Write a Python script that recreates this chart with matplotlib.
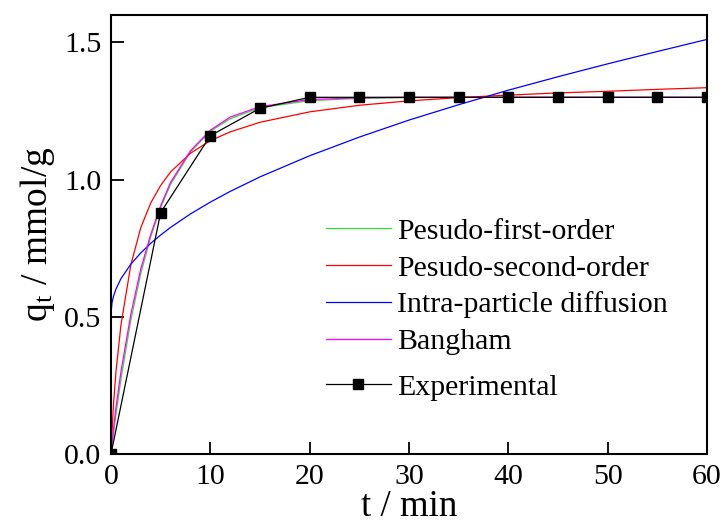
import matplotlib
matplotlib.use('Agg')
import matplotlib.pyplot as plt

# experimental data
t_exp = [0, 5, 10, 15, 20, 25, 30, 35, 40, 45, 50, 55, 60]
q_exp = [0, 0.88, 1.16, 1.26, 1.30, 1.30, 1.30, 1.30, 1.30, 1.30, 1.30, 1.30, 1.30]

# model curves
t_fit = [0, 0.1, 0.25, 0.5, 1, 2, 3, 4, 5, 6, 8, 10, 12, 15, 20, 25, 30, 35, 40, 45, 50, 55, 60]
q_pfo = [0, 0.03, 0.074, 0.144, 0.272, 0.488, 0.658, 0.792, 0.898, 0.983, 1.101, 1.176, 1.222,
         1.262, 1.288, 1.296, 1.299, 1.30, 1.30, 1.30, 1.30, 1.30, 1.30]
q_pso = [0, 0.08, 0.18, 0.30, 0.47, 0.69, 0.825, 0.915, 0.979, 1.028, 1.096, 1.142, 1.174,
         1.209, 1.247, 1.271, 1.287, 1.299, 1.308, 1.316, 1.322, 1.329, 1.335]
q_ipd = [0.51, 0.551, 0.575, 0.601, 0.639, 0.692, 0.733, 0.768, 0.798, 0.826, 0.875, 0.918, 0.957,
         1.010, 1.087, 1.155, 1.217, 1.273, 1.326, 1.375, 1.422, 1.467, 1.511]
q_bang = [0, 0.04, 0.09, 0.17, 0.30, 0.51, 0.675, 0.80, 0.905, 0.99, 1.105, 1.18, 1.228,
          1.266, 1.292, 1.298, 1.30, 1.30, 1.30, 1.30, 1.30, 1.30, 1.30]

plt.rcParams['font.family'] = ['Liberation Serif', 'DejaVu Serif']
plt.rcParams['mathtext.fontset'] = 'stix'

fig = plt.figure(figsize=(7.24, 5.28), dpi=100)
ax = fig.add_axes([111/724, 1-454/528, 596/724, 439/528])

l1, = ax.plot(t_fit, q_pfo, color='#33dd33', lw=0.9, label='Pesudo-first-order')
l2, = ax.plot(t_fit, q_pso, color='red', lw=0.9, label='Pesudo-second-order')
l3, = ax.plot(t_fit, q_ipd, color='blue', lw=0.9, label='Intra-particle diffusion')
l4, = ax.plot(t_fit, q_bang, color='magenta', lw=0.9, label='Bangham')
l5, = ax.plot(t_exp, q_exp, '-s', color='black', lw=0.9, ms=7.5, label='Experimental')

ax.set_xlim(0, 60)
ax.set_ylim(0, 1.6)
ax.set_xticks([0, 10, 20, 30, 40, 50, 60])
ax.set_yticks([0.0, 0.5, 1.0, 1.5])
ax.set_yticklabels(['0.0', '0.5', '1.0', '1.5'])
ax.tick_params(direction='in', length=9, width=1.3, labelsize=21.5, pad=7)
for s in ax.spines.values():
    s.set_linewidth(1.5)

ax.set_xlabel('t / min', fontsize=26.5, labelpad=0)
ax.set_ylabel(r'q$_\mathregular{t}$ / mmol/g', fontsize=27, labelpad=5)

leg1 = ax.legend(handles=[l1, l2, l3, l4], loc='upper left', bbox_to_anchor=(0.34, 0.565),
                 frameon=False, fontsize=21.5, handlelength=2.2, handletextpad=0.2,
                 labelspacing=0.33, borderaxespad=0)
ax.add_artist(leg1)
ax.legend(handles=[l5], loc='upper left', bbox_to_anchor=(0.34, 0.21), frameon=False,
          fontsize=21.5, handlelength=2.2, handletextpad=0.2, numpoints=1, markerscale=0.95,
          borderaxespad=0)

fig.savefig('out.png', dpi=100)
